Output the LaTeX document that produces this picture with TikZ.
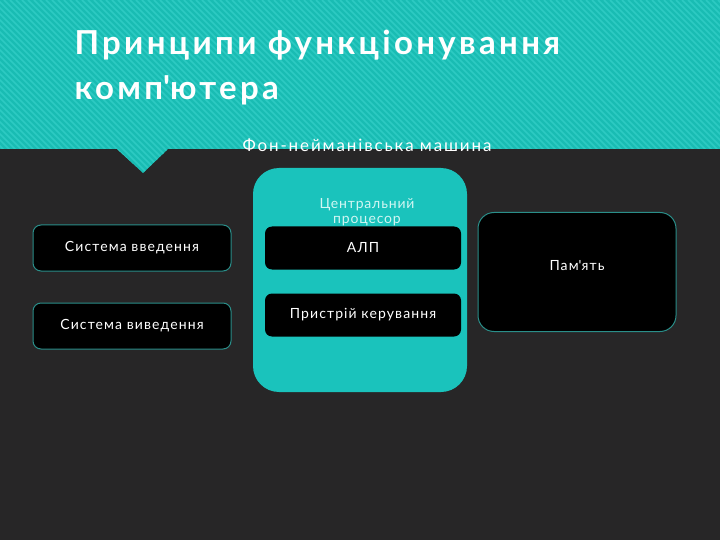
\documentclass[tikz,border=0pt]{standalone}
\usepackage{fontspec}
\setmainfont{Lato}
\definecolor{bgdark}{HTML}{272627}
\definecolor{bandteal}{HTML}{19BCB3}
\definecolor{stripeteal}{HTML}{2DCAC2}
\definecolor{cputeal}{HTML}{1AC3BC}
\definecolor{edgeteal}{HTML}{2A8E89}
\definecolor{cputext}{HTML}{D2F6F3}
\tikzset{
  unit/.style={draw=edgeteal,line width=1pt,fill=black,text=white,rounded corners=8pt,
    minimum width=198pt,minimum height=46pt,font=\fontsize{14}{16}\selectfont\addfontfeatures{LetterSpace=8}},
  inner/.style={fill=black,text=white,rounded corners=7pt,
    minimum width=196pt,minimum height=43pt,font=\fontsize{14}{16}\selectfont\addfontfeatures{LetterSpace=8}},
}
\begin{document}
\begin{tikzpicture}[x=1pt,y=-1pt]
            \useasboundingbox (0,0) rectangle (720,540);
            \fill [bgdark] (0,0) rectangle (720,540);
            % striped header band with pointer
            \begin{scope}
                \clip (0,0) -- (720,0) -- (720,149) -- (168,149) -- (143,173) -- (117,149) -- (0,149) -- cycle;
                \fill [bandteal] (0,0) rectangle (720,180);
                \foreach \s in {-200,-194,...,720}
                    \draw [stripeteal,line width=1.6pt] (\s,0) -- (\s+180,180);
            \end{scope}
            \node [anchor=base west,text=white,align=left,font=\fontsize{33}{45}\selectfont\bfseries\addfontfeatures{LetterSpace=10}] (title) at (71,100)
                {Принципи функціонування\\комп\textquotesingle ютера};
            \node [anchor=base,text=white,font=\fontsize{17}{19}\selectfont\addfontfeatures{LetterSpace=11}] (machine) at (367,152)
                {Фон-нейманівська машина};
            % blocks
            \node [unit] (input) at (132,248) {Система введення};
            \node [unit] (output) at (132,326) {Система виведення};
            \node [fill=cputeal,rounded corners=26pt,minimum width=214pt,minimum height=224pt] (cpu) at (360,280) {};
            \node [text=cputext,align=center,font=\fontsize{14}{15}\selectfont\addfontfeatures{LetterSpace=6}] (cpuname) at (367,212) {Центральний\\процесор};
            \node [inner] (alu) at (363,248) {АЛП};
            \node [inner] (control) at (363,315) {Пристрій керування};
            \node [unit,minimum height=119pt,rounded corners=16pt,text depth=14pt] (memory) at (577,272) {Пам\textquotesingle ять};
        \end{tikzpicture}
\end{document}
